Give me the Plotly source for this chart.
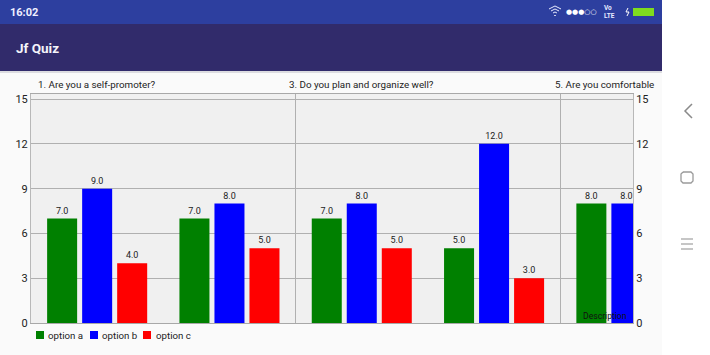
import plotly.graph_objects as go

questions = [1, 2, 3, 4, 5]
option_a = [7, 7, 7, 5, 8]
option_b = [9, 8, 8, 12, 8]
option_c = [4, 5, 5, 3, None]
series_names = ["option a", "option b", "option c"]
series_colors = ["#008000", "#0000ff", "#ff0000"]
question_labels = ["1. Are you a self-promoter?", "3. Do you plan and organize well?", "5. Are you comfortable"]
y_ticks = [0, 3, 6, 9, 12, 15]

W, H = 710, 355
L, R, T, B = 31, 633, 94, 323
def px(x): return (x - L) / (R - L)
def py(y): return (B - y) / (B - T)

fig = go.Figure()
for name, vals, col in zip(series_names, [option_a, option_b, option_c], series_colors):
    fig.add_bar(x=questions, y=vals, name=name, marker=dict(color=col, line_width=0),
                text=[None if v is None else f"{v:.1f}" for v in vals], textposition="outside",
                textfont=dict(size=9, color="#222", family="Roboto"), cliponaxis=True, showlegend=False)
fig.add_scatter(x=[1], y=[0], yaxis="y2", mode="none", showlegend=False, hoverinfo="skip")

shapes = []
def rect(x0, y0, x1, y1, fill, line=None, lw=0, layer="below"):
    shapes.append(dict(type="rect", xref="paper", yref="paper", x0=px(x0), x1=px(x1), y0=py(y0), y1=py(y1),
                       fillcolor=fill, line=dict(color=line or fill, width=lw), layer=layer))
def pline(pts, col, lw=1.5):
    d = "M" + " L".join(f"{px(a):.5f},{py(b):.5f}" for a, b in pts)
    shapes.append(dict(type="path", xref="paper", yref="paper", path=d, line=dict(color=col, width=lw), layer="above"))

rect(0, 0, 662, 24, "#2d3f9f")
rect(0, 24, 662, 71, "#312b6b")
rect(0, 71, 662, 73, "#dcdce0")
rect(662, 0, 710, 355, "#ffffff")
rect(633, 8, 654, 16, "#7fdc1e")
pline([(692, 104), (685, 111), (692, 118)], "#8a8a8a")
pline([(683, 172), (691, 172), (693, 174), (693, 181), (691, 183), (683, 183), (681, 181), (681, 174), (683, 172)], "#9a9a9a", 1.3)
for yy in (239, 244, 249):
    pline([(681, yy), (693, yy)], "#a0a0a0", 1.2)
# wifi arcs
pline([(549, 9), (555, 6), (561, 9)], "#e8ebff", 1)
pline([(551, 11), (555, 9), (559, 11)], "#e8ebff", 1)
pline([(553, 13), (555, 12), (557, 13)], "#e8ebff", 1)
pline([(555, 15), (555, 16)], "#ffffff", 1.5)
pline([(628, 8), (626, 12), (629, 12), (627, 16)], "#ffffff", 1)

ann = []
def text(x, y, s, size=10, col="#222222", anchor="left", fam="Roboto"):
    ann.append(dict(xref="paper", yref="paper", x=px(x), y=py(y), text=s, showarrow=False, xanchor=anchor,
                    yanchor="middle", font=dict(size=size, color=col, family=fam), borderpad=0, align="left"))

text(9, 12, "<b>16:02</b>", 11, "#f0f0ff")
text(15, 48, "<b>Jf Quiz</b>", 13.5, "#f4f4fa")
text(565, 12, "●●●○○", 7, "#ffffff", fam="DejaVu Sans")
text(603, 12, "<b>Vo<br>LTE</b>", 6.5, "#e8ebff")
for x0, s in zip((37, 288, 554), question_labels):
    text(x0, 84.5, s, 9.8)
text(582, 316, "Description", 8.6, "#111111")
for (sq, tx), name, col in zip(((36, 47), (90, 101), (143, 155)), series_names, series_colors):
    rect(sq, 331, sq + 8, 339, col)
    text(tx, 335, name, 9.7)

axis_style = dict(range=[0, 15.34], tickvals=y_ticks, ticks="", tickfont=dict(size=11, color="#222", family="Roboto"),
                  showline=True, linecolor="#b8b8b8", linewidth=1, zeroline=False)
fig.update_layout(
    width=W, height=H, autosize=False, margin=dict(l=L, r=W - R, t=T, b=H - B),
    paper_bgcolor="#fafafa", plot_bgcolor="#f0f0f0",
    barmode="group", bargap=0.206, bargroupgap=0.143, showlegend=False,
    xaxis=dict(range=[0.5, 5.05], tick0=0.5, dtick=2, showticklabels=False, ticks="", showgrid=True,
               gridcolor="#b0b0b0", gridwidth=1, showline=True, linecolor="#a8a8a8", linewidth=1, mirror=True, zeroline=False),
    yaxis=dict(showgrid=True, gridcolor="#b0b0b0", gridwidth=1, side="left", **axis_style),
    yaxis2=dict(overlaying="y", side="right", showgrid=False, **axis_style),
    shapes=shapes, annotations=ann,
)
fig.write_html("out.html", config={"displayModeBar": False},
               post_script="document.body.style.margin='0';document.body.style.overflow='hidden';")
